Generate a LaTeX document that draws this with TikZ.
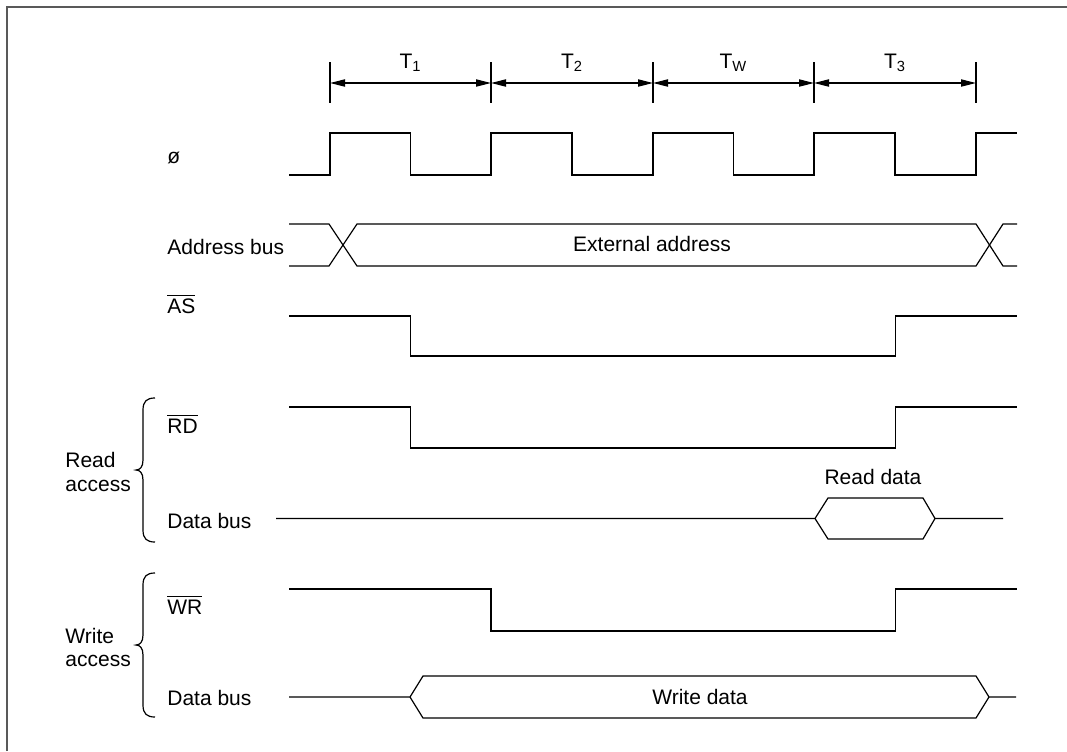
\documentclass[tikz,border=0pt]{standalone}
\usepackage{fontspec}
\setmainfont{Liberation Sans}
\usetikzlibrary{arrows.meta}
\begin{document}
\begin{tikzpicture}[x=0.5pt,y=-0.5pt,
  sig/.style={line width=0.6pt, line join=miter},
  frm/.style={line width=0.8pt, draw=black!65},
  dim/.style={line width=0.6pt, {Triangle[length=7.5pt,width=3.6pt]}-{Triangle[length=7.5pt,width=3.6pt]}},
  lbl/.style={font=\fontsize{10.5}{12.6}\selectfont, inner sep=0pt},
  brc/.style={line width=0.6pt}]
\useasboundingbox (0,0) rectangle (1067,751);
\draw[frm] (7,751) -- (7,7) -- (1067,7);

% time marks
\foreach \n/\x in {0/330,1/491,2/653,3/814,4/976}{
  \coordinate (ta\n) at (\x,62);
  \coordinate (tb\n) at (\x,103);
  \coordinate (t\n) at (\x,83);
  \draw[sig] (ta\n) -- (tb\n);
}
\draw[dim] (t0) -- (t1);
\draw[dim] (t1) -- (t2);
\draw[dim] (t2) -- (t3);
\draw[dim] (t3) -- (t4);
\node[lbl, anchor=base] (T1) at (410.5,68) {T\textsubscript{1}};
\node[lbl, anchor=base] (T2) at (572,68) {T\textsubscript{2}};
\node[lbl, anchor=base] (TW) at (733.5,68) {T\textsubscript{W}};
\node[lbl, anchor=base] (T3) at (895,68) {T\textsubscript{3}};

% labels
\node[lbl, anchor=base west] (phi) at (167,163) {ø};
\node[lbl, anchor=base west] (addr) at (167,254) {Address bus};
\node[lbl, anchor=base west] (as) at (167,313) {$\overline{\mbox{AS}}$};
\node[lbl, anchor=base west] (rd) at (167,433) {$\overline{\mbox{RD}}$};
\node[lbl, anchor=base west] (dbr) at (167,528) {Data bus};
\node[lbl, anchor=base west] (wr) at (167,614) {$\overline{\mbox{WR}}$};
\node[lbl, anchor=base west] (dbw) at (167,705.5) {Data bus};
\node[lbl, anchor=base west] (read1) at (65,467) {Read};
\node[lbl, anchor=base west] (read2) at (65,491) {access};
\node[lbl, anchor=base west] (write1) at (65,643) {Write};
\node[lbl, anchor=base west] (write2) at (65,666) {access};

% clock
\draw[sig] (289,175) -- (330,175) -- (330,133) -- (410.5,133) -- (410.5,175) -- (491,175) -- (491,133) -- (572,133) -- (572,175) -- (653,175) -- (653,133) -- (733.5,133) -- (733.5,175) -- (814,175) -- (814,133) -- (895,133) -- (895,175) -- (976,175) -- (976,133) -- (1017,133);

% address bus
\draw[sig] (289,224) -- (329,224) -- (357,266) -- (976,266) -- (1003,224) -- (1017,224);
\draw[sig] (289,266) -- (329,266) -- (357,224) -- (976,224) -- (1003,266) -- (1017,266);
\node[lbl] (ext) at (652,244) {External address};

% AS
\draw[sig] (289,316) -- (410.5,316) -- (410.5,356) -- (895.5,356) -- (895.5,316) -- (1017,316);

% RD
\draw[sig] (289,407) -- (410.5,407) -- (410.5,448) -- (895.5,448) -- (895.5,407) -- (1017,407);

% read data bus
\draw[sig] (276,518.5) -- (815,518.5) -- (828,498) -- (923,498) -- (935,518.5) -- (1003,518.5);
\draw[sig] (815,518.5) -- (828,539) -- (923,539) -- (935,518.5);
\node[lbl] (rdata) at (873,477) {Read data};

% WR
\draw[sig] (289,589) -- (491,589) -- (491,631) -- (895.5,631) -- (895.5,589) -- (1017,589);

% write data bus
\draw[sig] (289,697) -- (410,697) -- (423,676) -- (976,676) -- (989,697) -- (1016,697);
\draw[sig] (410,697) -- (423,718) -- (976,718) -- (989,697);
\node[lbl] (wdata) at (700,697) {Write data};

% braces
\draw[brc] (155,398) .. controls (147,398) and (143,401) .. (143,410) -- (143,460) .. controls (143,467) and (140,470) .. (136,470) .. controls (140,470) and (143,473) .. (143,480) -- (143,530) .. controls (143,539) and (147,542) .. (155,542);
\draw[brc] (155,573) .. controls (147,573) and (143,576) .. (143,585) -- (143,635) .. controls (143,642) and (140,645) .. (136,645) .. controls (140,645) and (143,648) .. (143,655) -- (143,705) .. controls (143,714) and (147,717) .. (155,717);
\end{tikzpicture}
\end{document}
